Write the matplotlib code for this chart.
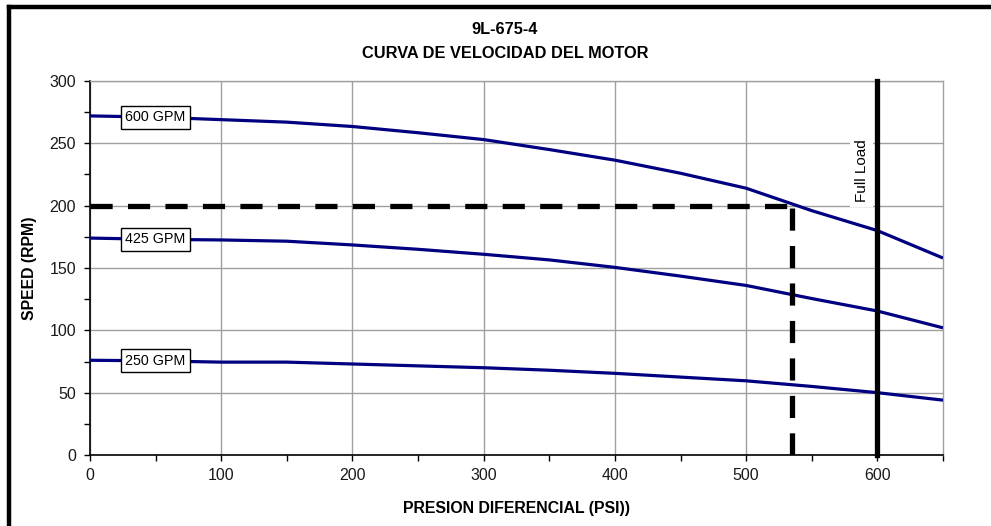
import matplotlib
matplotlib.use("Agg")
import matplotlib.pyplot as plt
from matplotlib.lines import Line2D
from matplotlib.ticker import MultipleLocator

plt.rcParams['font.family'] = ['Liberation Sans', 'DejaVu Sans']

# ---- data ----
psi = [0, 50, 100, 150, 200, 250, 300, 350, 400, 450, 500, 550, 600, 650]
rpm_600 = [272, 271, 269, 267, 263.5, 258.5, 253, 245, 236.5, 226, 214, 196, 180, 158]
rpm_425 = [174, 173, 172.5, 171.5, 168.5, 165, 161, 156.5, 150.5, 143.5, 136, 125.5, 115.5, 102]
rpm_250 = [76, 75.5, 74.5, 74.5, 73, 71.5, 70, 68, 65.5, 62.5, 59.5, 55, 50, 44]
series_labels = ["600 GPM", "425 GPM", "250 GPM"]
label_x = 50
op_psi = 535
op_rpm = 200
full_load_psi = 600
title_lines = ["9L-675-4", "CURVA DE VELOCIDAD DEL MOTOR"]
xlabel = "PRESION DIFERENCIAL (PSI))"
ylabel = "SPEED (RPM)"

W, H = 991, 526
fig = plt.figure(figsize=(W / 100, H / 100), dpi=100)
ax = fig.add_axes([90 / W, 1 - 455 / H, (943 - 90) / W, (455 - 81) / H])

navy = "#000080"
for ys in (rpm_600, rpm_425, rpm_250):
    ax.plot(psi, ys, color=navy, lw=2.3, solid_capstyle='butt', zorder=3)

# labels for curves
for ys, lab in zip((rpm_600, rpm_425, rpm_250), series_labels):
    y0 = ys[psi.index(label_x)]
    ax.text(label_x, y0, lab, fontsize=10.3, ha='center', va='center', zorder=5,
            bbox=dict(boxstyle='square,pad=0.32', fc='white', ec='black', lw=1))

# operating point dashed lines
ax.plot([0, op_psi], [op_rpm, op_rpm], color='black', lw=3.8,
        linestyle=(0, (4.2, 2.9)), zorder=4, dash_capstyle='butt')
ax.plot([op_psi, op_psi], [0, op_rpm], color='black', lw=3.8,
        linestyle=(0, (4.2, 2.9)), zorder=4, dash_capstyle='butt')

# Full load line
ax.plot([full_load_psi, full_load_psi], [0, 300], color='black', lw=3.8,
        solid_capstyle='projecting', clip_on=False, zorder=6)
ax.text(full_load_psi - 12, 228, "Full Load", rotation=90, fontsize=11,
        ha='center', va='center', zorder=5,
        bbox=dict(boxstyle='square,pad=0.3', fc='white', ec='none'))

ax.set_xlim(0, 650)
ax.set_ylim(0, 300)
ax.xaxis.set_major_locator(MultipleLocator(100))
ax.xaxis.set_minor_locator(MultipleLocator(50))
ax.yaxis.set_major_locator(MultipleLocator(50))
ax.yaxis.set_minor_locator(MultipleLocator(25))
ax.grid(True, which='major', color='#a0a0a0', lw=1.0, zorder=0)
ax.set_axisbelow(True)
for s in ('top', 'right'):
    ax.spines[s].set_color('#a0a0a0')
    ax.spines[s].set_linewidth(1.0)
for s in ('left', 'bottom'):
    ax.spines[s].set_color('black')
    ax.spines[s].set_linewidth(1.2)
ax.tick_params(which='both', direction='out', length=4, width=1, color='black',
               labelsize=11.5, labelcolor='#1a1a1a')
ax.tick_params(axis='y', pad=6)
ax.tick_params(axis='x', pad=5)

ax.set_xlabel(xlabel, fontsize=11.4, fontweight='bold', labelpad=13)
ax.set_ylabel(ylabel, fontsize=11.4, fontweight='bold', labelpad=9)

narrow = ['Liberation Sans Narrow', 'Liberation Sans', 'DejaVu Sans']
fig.text(505 / W, 1 - 30 / H, title_lines[0], ha='center', va='center',
         fontsize=11.8, fontweight='bold', family=narrow)
fig.text(505 / W, 1 - 53 / H, title_lines[1], ha='center', va='center',
         fontsize=11.8, fontweight='bold', family=narrow)

# outer frame (top and left edges)
fig.add_artist(Line2D([9 / W, 1.0], [1 - 7 / H, 1 - 7 / H], color='black', lw=3.2,
                      transform=fig.transFigure, solid_capstyle='projecting'))
fig.add_artist(Line2D([9 / W, 9 / W], [1 - 7 / H, 0.0], color='black', lw=3.2,
                      transform=fig.transFigure, solid_capstyle='projecting'))

fig.savefig("out.png", dpi=100)
